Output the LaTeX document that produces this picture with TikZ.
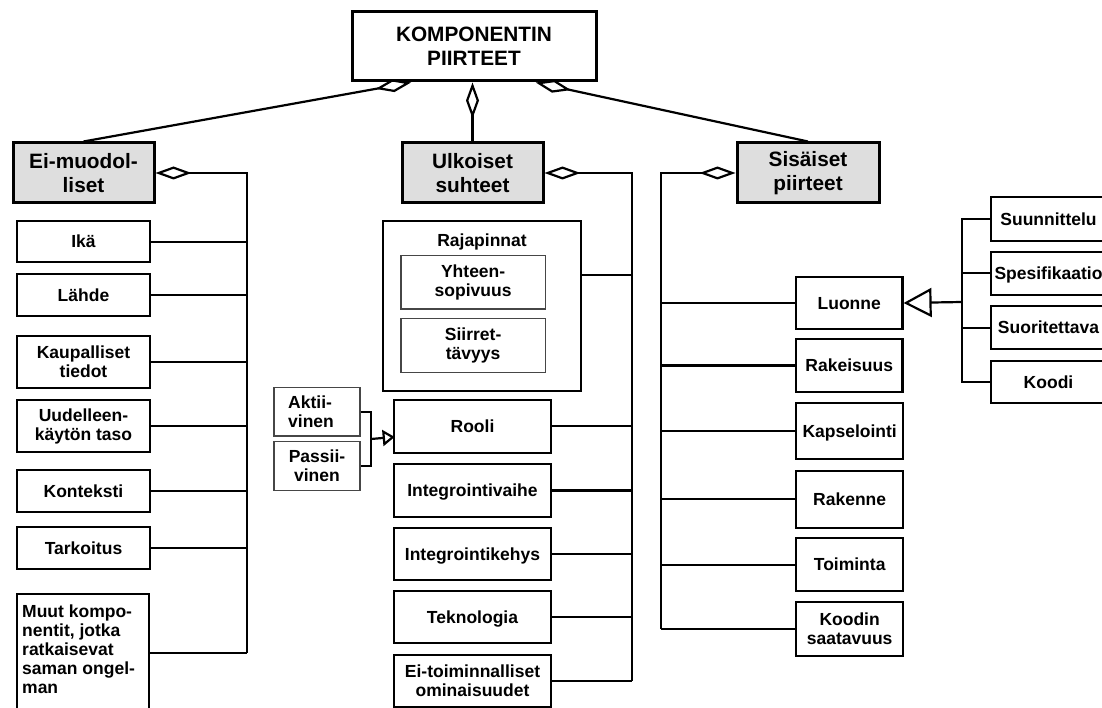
\documentclass[tikz,border=0pt]{standalone}
\usepackage{fontspec}
\setmainfont{Liberation Sans}
\usetikzlibrary{arrows.meta,calc}
\definecolor{headfill}{RGB}{222,222,222}
\definecolor{thinline}{RGB}{70,70,70}

% box from corner (x1,y1) to (x2,y2), y measured downwards
\newcommand{\placebox}[7]{%
  \pgfmathsetmacro{\boxw}{#4-#2}\pgfmathsetmacro{\boxh}{#5-#3}%
  \pgfmathsetmacro{\boxcx}{(#2+#4)/2}\pgfmathsetmacro{\boxcy}{(#3+#5)/2}%
  \node[#6, minimum width=\boxw pt, minimum height=\boxh pt] (#1) at (\boxcx,\boxcy) {#7};}

\tikzset{
  bigtext/.style={font=\fontsize{20.8}{23.6}\selectfont\bfseries, align=center},
  smalltext/.style={font=\fontsize{17.5}{19}\selectfont\bfseries, align=center},
  one/.style={text depth=0pt},
  titlebox/.style={draw, line width=3pt, fill=white, bigtext, inner sep=0pt},
  headbox/.style={draw, line width=3pt, fill=headfill, bigtext, inner sep=0pt},
  itembox/.style={draw, line width=2.2pt, fill=white, smalltext, inner sep=0pt},
  subbox/.style={draw=thinline, line width=1.3pt, fill=white, smalltext, inner sep=0pt},
  link/.style={line width=2.2pt},
  agg/.style={link, {Diamond[open,length=36pt,width=13pt]}-},
  genbig/.style={link, -{Triangle[open,length=28pt,width=29pt]}},
  gensmall/.style={link, -{Triangle[open,length=12pt,width=16pt]}},
}

\begin{document}
\begin{tikzpicture}[x=1pt,y=-1pt]
\clip (0,0) rectangle (1102,708);
\fill[white] (0,0) rectangle (1102,708);

% top and category boxes
\placebox{title}{352}{12}{596}{81}{titlebox}{KOMPONENTIN\\PIIRTEET}
\placebox{ei}{13}{143}{154}{203}{headbox}{Ei-muodol-\\liset}
\placebox{ul}{402}{143}{543}{203}{headbox}{Ulkoiset\\suhteet}
\placebox{si}{737}{143}{879}{203}{headbox}{Sisäiset\\piirteet}

% non-formal features
\placebox{ika}{17}{221}{150}{262.3}{itembox,one}{Ikä}
\placebox{lah}{17}{274}{150}{315.7}{itembox,one}{Lähde}
\placebox{kau}{17}{336}{150}{388.3}{itembox}{Kaupalliset\\tiedot}
\placebox{uud}{17}{400}{150}{452.3}{itembox}{Uudelleen-\\käytön taso}
\placebox{kon}{17}{470}{150}{512.3}{itembox,one}{Konteksti}
\placebox{tar}{17}{526.7}{150}{569.3}{itembox,one}{Tarkoitus}
\placebox{muu}{17}{594}{149.3}{712}{itembox}{}
\node[smalltext, align=left, anchor=north west, inner sep=0pt] (muutxt) at (22,605)
  {Muut kompo-\\nentit, jotka\\ratkaisevat\\saman ongel-\\man};

% external relations
\placebox{raj}{383}{221}{581}{391}{itembox}{}
\node[smalltext, anchor=base, inner sep=0pt] (rajtxt) at (482,246.7) {Rajapinnat};
\placebox{yht}{401}{255.7}{545.3}{309}{subbox}{Yhteen-\\sopivuus}
\placebox{sii}{401}{318.3}{545.3}{372.3}{subbox}{Siirret-\\tävyys}
\placebox{akt}{274}{387.3}{360}{436}{subbox}{}
\node[smalltext, align=left, anchor=west, inner sep=0pt] (akttxt) at (288,411.6) {Aktii-\\vinen};
\placebox{pas}{274}{441.7}{360}{490.7}{subbox}{Passii-\\vinen}
\placebox{rol}{394.3}{400}{550.7}{452.7}{itembox,one}{Rooli}
\placebox{iva}{394.3}{464.3}{550.7}{516.7}{itembox,one}{Integrointivaihe}
\placebox{ike}{394.3}{527.7}{550.7}{580}{itembox,one}{Integrointikehys}
\placebox{tek}{394.3}{591}{550.7}{642.7}{itembox,one}{Teknologia}
\placebox{eto}{394.3}{655}{550.7}{706.7}{itembox}{Ei-toiminnalliset\\ominaisuudet}

% internal features
\placebox{lu}{796}{276.7}{902.5}{329.3}{itembox,one}{Luonne}
\placebox{rak}{796}{339.3}{902.5}{391.7}{itembox,one}{Rakeisuus}
\placebox{kap}{796}{402.7}{903.3}{459.3}{itembox,one}{Kapselointi}
\placebox{rke}{796}{471}{903.3}{527.7}{itembox,one}{Rakenne}
\placebox{toi}{796}{538.3}{903.3}{591}{itembox,one}{Toiminta}
\placebox{kod}{796}{602.3}{903.3}{655.7}{itembox}{Koodin\\saatavuus}

% kinds of component
\placebox{sun}{991}{197.3}{1106}{240.7}{itembox,one}{Suunnittelu}
\placebox{spe}{991}{251.7}{1106}{295}{itembox,one}{Spesifikaatio}
\placebox{suo}{991}{306}{1106}{349.3}{itembox,one}{Suoritettava}
\placebox{koo}{991}{360.7}{1106}{403.3}{itembox,one}{Koodi}

% aggregation from the top box
\coordinate (tl) at ($(title.south west)!0.245!(title.south east)$);
\coordinate (tr) at ($(title.south west)!0.75!(title.south east)$);
\draw[agg] (tl) -- (ei.north);
\draw[agg] (ul.north |- title.south) -- (ul.north);
\draw[agg] (tr) -- (si.north);

% spines
\coordinate (eiS) at (246.7,653.3);
\coordinate (ulS) at (632,680.8);
\coordinate (siS) at (661,629);
\draw[agg] (ei.east) -| (eiS);
\draw[agg] (ul.east) -| (ulS);
\draw[agg] (si.west) -| (siS);

\foreach \n in {ika,lah,kau,uud,kon,tar,muu}
  \draw[link] (\n.east) -- (\n.east -| eiS);
\coordinate (rajc) at ($(raj.north east)!0.322!(raj.south east)$);
\draw[link] (rajc) -- (rajc -| ulS);
\foreach \n in {rol,iva,ike,tek,eto}
  \draw[link] (\n.east) -- (\n.east -| ulS);
\foreach \n in {lu,rak,kap,rke,toi,kod}
  \draw[link] (\n.west) -- (\n.west -| siS);

% role subtypes
\coordinate (brk) at (371,439);
\draw[link] (akt.east) -| (brk) |- (pas.east);
\draw[gensmall] (brk) -- ($(rol.west)+(1.5,10.6)$);

% nature subtypes
\coordinate (gx) at (961.7,302);
\draw[link] (sun.west) -- (sun.west -| gx) -- (koo.west -| gx) -- (koo.west);
\draw[link] (spe.west) -- (spe.west -| gx);
\draw[link] (suo.west) -- (suo.west -| gx);
\draw[genbig] (gx) -- (lu.east);
\end{tikzpicture}
\end{document}
